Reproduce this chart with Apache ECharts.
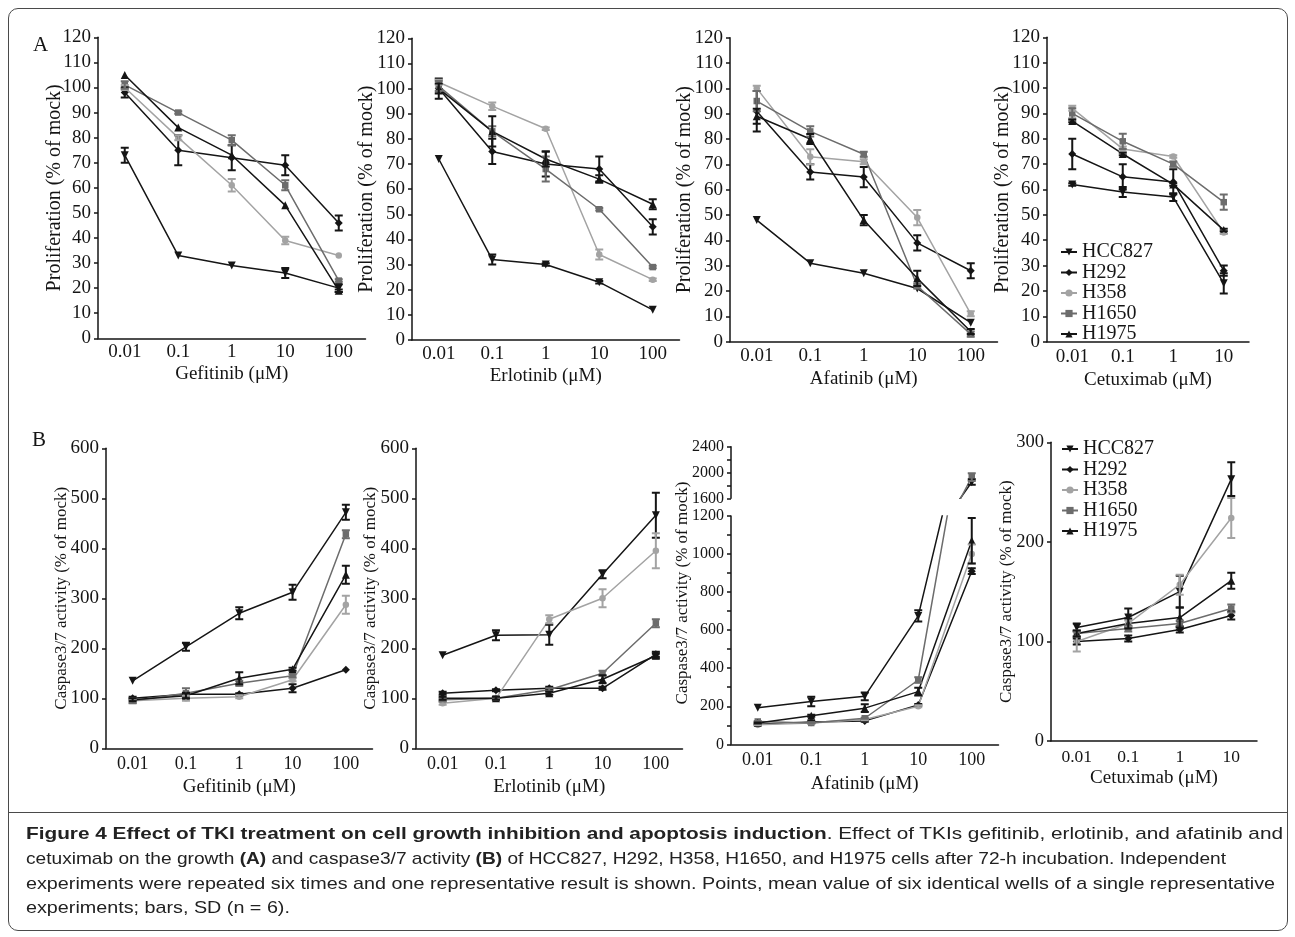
<!DOCTYPE html>
<html>
<head>
  <meta charset="UTF-8">
  <title>Figure 4</title>
  <script src="https://cdn.jsdelivr.net/npm/echarts@6.0.0/dist/echarts.min.js"></script>
  <style>
    body { margin: 0; background: #fff; }
    #wrap { position: relative; width: 1295px; height: 937px; }
    #chart { position: absolute; left: 0; top: 0; width: 1295px; height: 937px; }
    .frame { position: absolute; left: 8px; top: 8px; width: 1278px; height: 921px; border: 1px solid #4a4a4a; border-radius: 10px; pointer-events: none; }
    .sep { position: absolute; left: 9px; top: 812px; width: 1278px; height: 0; border-top: 1px solid #4a4a4a; }
    .cap { position: absolute; left: 26px; font-family: "Liberation Sans", Arial, sans-serif; font-size: 17px; color: #222; line-height: 20px; }
    .cap span { display: inline-block; white-space: nowrap; transform-origin: 0 0; }
  </style>
</head>
<body>
<div id="wrap">
  <div id="chart"></div>
  <div class="frame"></div>
  <div class="sep"></div>
  <div class="cap" style="top:824px;"><span><b>Figure 4 Effect of TKI treatment on cell growth inhibition and apoptosis induction</b>. Effect of TKIs gefitinib, erlotinib, and afatinib and</span></div>
  <div class="cap" style="top:849px;"><span>cetuximab on the growth <b>(A)</b> and caspase3/7 activity <b>(B)</b> of HCC827, H292, H358, H1650, and H1975 cells after 72-h incubation. Independent</span></div>
  <div class="cap" style="top:874px;"><span>experiments were repeated six times and one representative result is shown. Points, mean value of six identical wells of a single representative</span></div>
  <div class="cap" style="top:898px;"><span>experiments; bars, SD (n = 6).</span></div>
</div>
<script type="text/javascript">
  // dose categories (uM) and cell lines
  var cats5 = ['0.01', '0.1', '1', '10', '100'];
  var cats4 = ['0.01', '0.1', '1', '10'];
  var cellLines = ['HCC827', 'H292', 'H358', 'H1650', 'H1975'];

  // A: proliferation (% of mock), rows = cell lines in the order above
  var proGefitinib = [[73, 33, 29, 26, 20], [98, 75, 72, 69, 46], [100, 80, 61, 39, 33], [101, 90, 79, 61, 23], [105, 84, 73, 53, 19]];
  var proGefitinibSD = [[3, 0, 0, 2, 1.5], [2, 6, 5, 4, 3], [1, 1, 2.5, 1.5, 0], [1.5, 0.5, 2, 2, 0.5], [0, 0, 0, 0, 0.5]];
  var proErlotinib = [[72, 32, 30, 23, 12], [100, 75, 70, 68, 45], [102.5, 93, 84, 34, 24], [101, 83, 68, 52, 29], [100, 83, 72, 64, 54]];
  var proErlotinibSD = [[0, 2, 0.5, 0.5, 0], [4, 5, 5, 5, 3], [1, 1.5, 0.5, 2, 0.5], [2, 2, 5, 0.5, 0.5], [2, 6, 3, 1.5, 2]];
  var proAfatinib = [[48, 31, 27, 21, 7.5], [91, 67, 65, 39, 28], [100, 73, 71, 49, 11], [95, 83, 74, 22, 3], [89, 80, 48, 25, 4]];
  var proAfatinibSD = [[0, 0, 0, 0, 0], [8, 3, 4, 3, 3], [1, 3, 1, 3, 1], [4, 2, 1, 1, 1], [3, 2, 2, 3, 1]];
  var proCetuximab = [[62, 59, 57, 23], [74, 65, 63, 28], [92, 76, 73, 43], [90, 79, 70, 55], [87, 74, 62, 44]];
  var proCetuximabSD = [[0.5, 2, 1.5, 4], [6, 5, 5, 2], [1, 1, 0.5, 0.5], [2, 3, 1, 3], [0.5, 0.5, 0.5, 0.5]];

  // B: caspase3/7 activity (% of mock)
  var casGefitinib = [[135, 203, 270, 312, 472], [100, 108, 108, 120, 157], [95, 100, 103, 137, 287], [95, 110, 130, 145, 428], [97, 105, 140, 158, 347]];
  var casGefitinibSD = [[0, 8, 12, 15, 15], [3, 3, 2, 8, 0], [3, 5, 3, 3, 18], [5, 10, 5, 3, 8], [3, 5, 12, 3, 18]];
  var casErlotinib = [[186, 226, 227, 348, 466], [110, 116, 120, 120, 188], [90, 100, 258, 300, 395], [97, 100, 117, 150, 250], [100, 100, 110, 138, 185]];
  var casErlotinibSD = [[0, 10, 20, 8, 45], [3, 2, 3, 3, 5], [3, 3, 8, 18, 35], [3, 3, 3, 5, 8], [3, 3, 3, 8, 5]];
  var casAfatinib = [[192, 225, 252, 675, 1850], [105, 117, 123, 207, 910], [103, 112, 130, 200, 1000], [120, 112, 137, 338, 1930], [112, 150, 190, 277, 1070]];
  var casAfatinibSD = [[0, 25, 20, 30, 40], [3, 5, 5, 5, 15], [3, 3, 3, 5, 50], [3, 3, 3, 15, 60], [3, 5, 20, 20, 120]];
  var casCetuximab = [[114, 124, 150, 263], [100, 103, 112, 126], [100, 118, 157, 224], [108, 113, 118, 133], [108, 118, 124, 161]];
  var casCetuximabSD = [[4, 9, 16, 17], [3, 3, 3, 4], [10, 3, 10, 20], [3, 3, 3, 4], [3, 5, 10, 8]];

  var serif = '"Liberation Serif", "Times New Roman", serif';
  var ink = '#151515';
  var marks = [
    { color: ink, symbol: 'path://M0,0L10,0L5,10Z', size: 8 },
    { color: ink, symbol: 'diamond', size: 8 },
    { color: '#a3a3a3', symbol: 'circle', size: 6.5 },
    { color: '#6c6c6c', symbol: 'rect', size: 6.5 },
    { color: ink, symbol: 'triangle', size: 8 }
  ];

  var grid = [], xAxis = [], yAxis = [], series = [];

  function errorBar(params, api) {
    var e = api.value(2);
    if (!e) return;
    var x = api.value(0), v = api.value(1);
    var hi = api.coord([x, v + e]), lo = api.coord([x, v - e]);
    var w = 4;
    var st = { stroke: api.visual('color'), lineWidth: 2 };
    return {
      type: 'group',
      children: [
        { type: 'line', shape: { x1: hi[0], y1: hi[1], x2: lo[0], y2: lo[1] }, style: st },
        { type: 'line', shape: { x1: hi[0] - w, y1: hi[1], x2: hi[0] + w, y2: hi[1] }, style: st },
        { type: 'line', shape: { x1: lo[0] - w, y1: lo[1], x2: lo[0] + w, y2: lo[1] }, style: st }
      ]
    };
  }

  function addPanel(p) {
    var i = grid.length;
    grid.push({ left: p.left, top: p.top, width: p.width, height: p.height, containLabel: false });
    xAxis.push({
      type: 'category', gridIndex: i, data: p.cats, boundaryGap: true, show: !p.hideX,
      axisLine: { lineStyle: { color: ink, width: 1.5 } },
      axisTick: { show: false },
      axisLabel: { fontFamily: serif, fontSize: p.xFont, color: ink, margin: p.xMargin },
      name: p.xName, nameLocation: 'middle', nameGap: p.xGap, nameMoveOverlap: false,
      nameTextStyle: { fontFamily: serif, fontSize: 19, color: ink }
    });
    yAxis.push({
      type: 'value', gridIndex: i, min: p.min, max: p.max, interval: p.interval,
      splitLine: { show: false },
      axisLine: { show: true, lineStyle: { color: ink, width: 1.5 } },
      axisTick: { show: true, length: 4, lineStyle: { color: ink, width: 1.5 } },
      minorTick: { show: !!p.minor, splitNumber: 2, length: 4, lineStyle: { color: ink, width: 1.5 } },
      axisLabel: { fontFamily: serif, fontSize: p.yFont, color: ink, margin: 7, formatter: function (v) { return String(v); } },
      name: p.yName || '', nameLocation: 'middle', nameGap: p.yGap, nameMoveOverlap: false,
      nameTextStyle: { fontFamily: serif, fontSize: p.yNameFont, color: ink }
    });
    p.mean.forEach(function (vals, k) {
      var m = marks[k];
      series.push({
        type: 'line', name: cellLines[k], xAxisIndex: i, yAxisIndex: i, data: vals,
        symbol: m.symbol, symbolSize: m.size, showAllSymbol: true, clip: true,
        lineStyle: { color: m.color, width: 1.5 }, itemStyle: { color: m.color },
        z: 2
      });
      series.push({
        type: 'custom', xAxisIndex: i, yAxisIndex: i, clip: true, z: 3,
        itemStyle: { color: m.color },
        encode: { x: 0, y: 1 },
        data: vals.map(function (v, j) { return [j, v, p.sd[k][j]]; }),
        renderItem: errorBar
      });
    });
  }

  var proName = 'Proliferation (% of mock)';
  var casName = 'Caspase3/7 activity (% of mock)';

  addPanel({ cats: cats5, mean: proGefitinib, sd: proGefitinibSD, left: 98, top: 37.3, width: 267.5, height: 301,
    min: 0, max: 120, interval: 10, yName: proName, yGap: 33, yNameFont: 20, yFont: 19,
    xName: 'Gefitinib (μM)', xGap: 26, xFont: 19, xMargin: 4.5 });
  addPanel({ cats: cats5, mean: proErlotinib, sd: proErlotinibSD, left: 412, top: 38.3, width: 267.5, height: 301.7,
    min: 0, max: 120, interval: 10, yName: proName, yGap: 35, yNameFont: 20, yFont: 19,
    xName: 'Erlotinib (μM)', xGap: 27, xFont: 19, xMargin: 4.5 });
  addPanel({ cats: cats5, mean: proAfatinib, sd: proAfatinibSD, left: 730, top: 37.7, width: 267.5, height: 304,
    min: 0, max: 120, interval: 10, yName: proName, yGap: 35, yNameFont: 20, yFont: 19,
    xName: 'Afatinib (μM)', xGap: 28, xFont: 19, xMargin: 5 });
  addPanel({ cats: cats4, mean: proCetuximab, sd: proCetuximabSD, left: 1047, top: 37.3, width: 202, height: 304.4,
    min: 0, max: 120, interval: 10, yName: proName, yGap: 34, yNameFont: 20, yFont: 19,
    xName: 'Cetuximab (μM)', xGap: 29, xFont: 19, xMargin: 5.5 });

  addPanel({ cats: cats5, mean: casGefitinib, sd: casGefitinibSD, left: 106, top: 448.3, width: 266.5, height: 300,
    min: 0, max: 600, interval: 100, yName: casName, yGap: 35.5, yNameFont: 17, yFont: 19,
    xName: 'Gefitinib (μM)', xGap: 29, xFont: 18, xMargin: 7 });
  addPanel({ cats: cats5, mean: casErlotinib, sd: casErlotinibSD, left: 416, top: 448.3, width: 266.5, height: 300,
    min: 0, max: 600, interval: 100, yName: casName, yGap: 37, yNameFont: 17, yFont: 19,
    xName: 'Erlotinib (μM)', xGap: 29, xFont: 18, xMargin: 7 });
  // afatinib: broken y axis, upper segment 1600-2400 and lower segment 0-1200
  addPanel({ cats: cats5, mean: casAfatinib, sd: casAfatinibSD, left: 731, top: 446.7, width: 267.5, height: 51.6,
    min: 1600, max: 2400, interval: 400, minor: true, yFont: 16, hideX: true, xFont: 18 });
  addPanel({ cats: cats5, mean: casAfatinib, sd: casAfatinibSD, left: 731, top: 516, width: 267.5, height: 228.3,
    min: 0, max: 1200, interval: 200, minor: true, yFont: 16,
    xName: 'Afatinib (μM)', xGap: 30, xFont: 18, xMargin: 7 });
  addPanel({ cats: cats4, mean: casCetuximab, sd: casCetuximabSD, left: 1051, top: 442.3, width: 206, height: 298.7,
    min: 0, max: 300, interval: 100, yName: casName, yGap: 35.5, yNameFont: 17, yFont: 18.5,
    xName: 'Cetuximab (μM)', xGap: 27.5, xFont: 17.5, xMargin: 7.5 });

  var legendText = { fontFamily: 'Liberation Serif', fontSize: 20, color: ink };
  var chart = echarts.init(document.getElementById('chart'));
  chart.setOption({
    animation: false,
    backgroundColor: '#fff',
    textStyle: { fontFamily: serif },
    title: [
      { text: 'A', left: 28, top: 30, textStyle: { fontFamily: serif, fontSize: 21, fontWeight: 'normal', color: ink } },
      { text: 'B', left: 27, top: 425, textStyle: { fontFamily: serif, fontSize: 21, fontWeight: 'normal', color: ink } }
    ],
    legend: [
      { data: cellLines, orient: 'vertical', left: 1055, top: 237, itemWidth: 16, itemHeight: 9, itemGap: 0.5, textStyle: legendText, selectedMode: false },
      { data: cellLines, orient: 'vertical', left: 1056, top: 434, itemWidth: 16, itemHeight: 9, itemGap: 0.5, textStyle: legendText, selectedMode: false }
    ],
    graphic: [
      { type: 'text', x: 683, y: 593, rotation: Math.PI / 2,
        style: { text: casName, fontFamily: serif, fontSize: 17, fill: ink, align: 'center', verticalAlign: 'middle' } }
    ],
    grid: grid,
    xAxis: xAxis,
    yAxis: yAxis,
    series: series
  });

  // squeeze each caption line to the width it has in the figure
  var capWidths = [1257, 1200, 1249];
  var lastScale = 1;
  var spans = document.querySelectorAll('.cap span');
  for (var n = 0; n < spans.length; n++) {
    var w = spans[n].getBoundingClientRect().width;
    var k = n < capWidths.length ? capWidths[n] / w : lastScale;
    lastScale = k;
    spans[n].style.transform = 'scaleX(' + k + ')';
  }
</script>
</body>
</html>
